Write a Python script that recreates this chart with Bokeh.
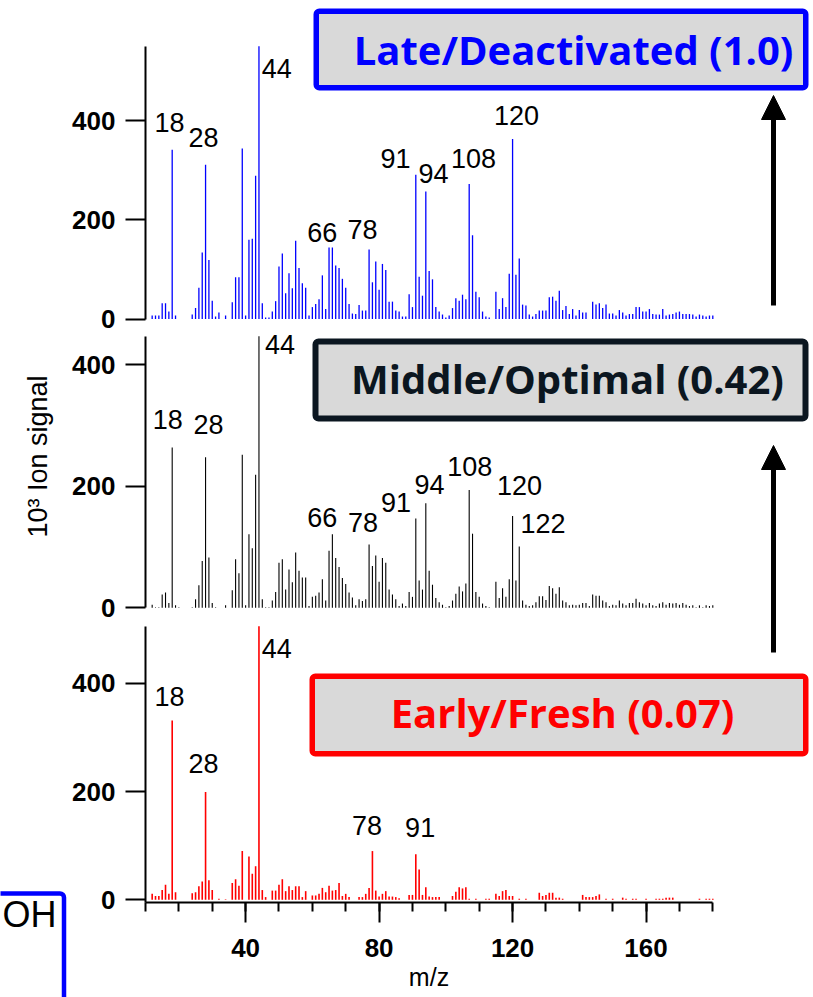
import math

from bokeh.core.properties import value
from bokeh.embed import file_html
from bokeh.models import (Arrow, BoxAnnotation, ColumnDataSource, FixedTicker,
                          Label, LinearAxis, NormalHead, Range1d,
                          SingleIntervalTicker)
from bokeh.plotting import figure
from bokeh.resources import INLINE

# ---------------------------------------------------------------------------
# Data: ion signal (x 10^3) at each integer m/z, 12 ... 180
# ---------------------------------------------------------------------------
mz = list(range(12, 181))

late_signal = [
    7, 7, 7, 32, 32, 15, 341, 7, 0, 0,            # 12-21
    0, 0, 9, 22, 63, 134, 311, 119, 37, 5,        # 22-31
    13, 0, 7, 0, 34, 84, 84, 344, 7, 160,         # 32-41
    162, 289, 550, 32, 3, 3, 15, 36, 106, 132,    # 42-51
    52, 92, 62, 158, 103, 72, 63, 7, 24, 30,      # 52-61
    40, 88, 20, 144, 144, 108, 103, 81, 63, 30,   # 62-71
    11, 10, 28, 17, 17, 140, 74, 116, 59, 111,    # 72-81
    99, 35, 35, 17, 15, 5, 5, 50, 24, 291,        # 82-91
    85, 47, 257, 97, 80, 24, 15, 9, 3, 7,         # 92-101
    22, 42, 37, 49, 40, 272, 169, 55, 44, 15,     # 102-111
    5, 3, 0, 55, 20, 42, 24, 91, 363, 89,         # 112-121
    122, 29, 27, 9, 5, 10, 17, 17, 17, 44,        # 122-131
    45, 37, 57, 18, 26, 10, 20, 7, 18, 13,        # 132-141
    13, 0, 35, 29, 32, 22, 29, 11, 11, 7,         # 142-151
    18, 13, 7, 10, 10, 24, 24, 15, 15, 20,        # 152-161
    10, 9, 9, 20, 7, 9, 10, 13, 15, 10,           # 162-171
    10, 10, 9, 5, 9, 7, 5, 7, 7,                  # 172-180
]

middle_signal = [
    5, 1, 1, 22, 25, 8, 264, 4, 1, 0,             # 12-21
    0, 0, 1, 14, 37, 77, 248, 83, 8, 1,           # 22-31
    0, 0, 4, 0, 29, 80, 57, 252, 4, 121,          # 32-41
    98, 219, 447, 14, 1, 1, 12, 26, 74, 80,       # 42-51
    30, 63, 42, 91, 61, 50, 50, 3, 18, 20,        # 52-61
    25, 47, 12, 94, 121, 82, 67, 49, 39, 25,      # 62-71
    17, 4, 14, 11, 14, 104, 69, 86, 43, 82,       # 72-81
    74, 30, 22, 14, 3, 7, 3, 26, 18, 147,         # 82-91
    45, 30, 172, 61, 38, 16, 9, 5, 1, 3,          # 92-101
    12, 23, 35, 27, 40, 194, 122, 26, 18, 7,      # 102-111
    3, 1, 0, 43, 16, 32, 18, 47, 151, 45,         # 112-121
    101, 12, 5, 3, 4, 9, 19, 19, 13, 36,          # 122-131
    32, 23, 34, 12, 9, 4, 5, 4, 5, 8,             # 132-141
    8, 3, 22, 20, 20, 12, 9, 3, 5, 4,             # 142-151
    12, 7, 4, 8, 8, 15, 9, 7, 4, 8,               # 152-161
    4, 3, 7, 9, 5, 8, 7, 8, 5, 8,                 # 162-171
    5, 3, 4, 1, 4, 1, 4, 3, 4,                    # 172-180
]

early_signal = [
    11, 7, 7, 18, 28, 11, 331, 14, 0, 0,          # 12-21
    0, 0, 12, 14, 25, 34, 199, 36, 18, 0,         # 22-31
    2, 0, 1, 0, 31, 38, 26, 90, 0, 80,            # 32-41
    48, 62, 505, 18, 5, 0, 17, 17, 28, 38,        # 42-51
    16, 25, 18, 25, 25, 5, 16, 0, 8, 8,           # 52-61
    11, 22, 14, 26, 17, 18, 31, 7, 11, 5,         # 62-71
    0, 0, 5, 5, 11, 22, 90, 17, 6, 11,            # 72-81
    16, 6, 6, 5, 3, 0, 0, 9, 9, 84,               # 82-91
    56, 9, 23, 6, 5, 5, 5, 0, 0, 0,               # 92-101
    7, 15, 23, 21, 23, 2, 0, 2, 0, 0,             # 102-111
    2, 2, 0, 11, 7, 16, 18, 7, 7, 0,              # 112-121
    2, 0, 2, 0, 0, 0, 13, 7, 9, 13,               # 122-131
    13, 4, 4, 2, 0, 0, 0, 0, 0, 9,                # 132-141
    5, 5, 5, 7, 10, 0, 2, 0, 2, 0,                # 142-151
    0, 4, 2, 0, 2, 2, 0, 0, 2, 0,                 # 152-161
    0, 2, 2, 2, 4, 4, 4, 0, 0, 0,                 # 162-171
    0, 0, 0, 0, 2, 0, 2, 2, 2,                    # 172-180
]

y_ticks = [0, 200, 400]

late_peaks = ["18", "28", "44", "66", "78", "91", "94", "108", "120"]
middle_peaks = ["18", "28", "44", "66", "78", "91", "94", "108", "120", "122"]
early_peaks = ["18", "28", "44", "78", "91"]

stage_titles = ["Late/Deactivated (1.0)", "Middle/Optimal (0.42)", "Early/Fresh (0.07)"]

# ---------------------------------------------------------------------------
# Layout: one full-window frame; each spectrum gets its own y range
# ---------------------------------------------------------------------------
W, H = 813, 997
MZ_LO, MZ_HI = 10, 180
X_LO_PX, X_HI_PX = 145.0, 712.3
px_per_mz = (X_HI_PX - X_LO_PX) / (MZ_HI - MZ_LO)

p = figure(
    width=W, height=H,
    x_range=Range1d(MZ_LO - X_LO_PX / px_per_mz, MZ_LO + (W - X_LO_PX) / px_per_mz),
    y_range=Range1d(H, 0),           # page pixels, measured from the top
    output_backend="svg", toolbar_location=None,
    x_axis_location=None, y_axis_location=None, title_location=None,
    min_border=0,
)
p.grid.visible = False
p.outline_line_color = None
p.background_fill_color = "white"
p.border_fill_color = "white"
p.extra_x_ranges = {"px": Range1d(0, W)}


def panel_range(base_px, px_per_unit):
    return Range1d(-(H - base_px) / px_per_unit, base_px / px_per_unit)


# (name, baseline px, px per unit, axis top, bar colour, bar width, values,
#  peak names, peak label placement [(m/z, signal)])
panels = [
    ("late", 318.5, 0.496, 550, "#0000ff", 1.3, late_signal, late_peaks,
     [(17.2, 396), (27.4, 366), (49.3, 505), (63.0, 175), (75.0, 180),
      (84.9, 324), (96.3, 294), (108.3, 324), (121.2, 411)]),
    ("middle", 607.3, 0.6075, 447, "#000000", 1.1, middle_signal, middle_peaks,
     [(16.7, 310), (28.9, 302), (50.3, 433), (63.0, 148), (75.2, 141),
      (85.1, 173), (95.1, 203), (107.2, 233), (122.1, 202), (129.1, 138)]),
    ("early", 899.3, 0.5415, 505, "#ff0000", 1.6, early_signal, early_peaks,
     [(17.2, 375), (27.4, 251), (49.3, 465), (76.4, 137), (92.3, 133)]),
]

for name, base, k, top, color, lw, vals, peaks, spots in panels:
    p.extra_y_ranges[name] = panel_range(base, k)

    keep = [i for i, v in enumerate(vals) if v > 0]
    src = ColumnDataSource(dict(mz=[mz[i] for i in keep], signal=[vals[i] for i in keep]))
    p.segment(x0="mz", y0=0, x1="mz", y1="signal", source=src,
              y_range_name=name, line_color=color, line_width=lw)

    lab = ColumnDataSource(dict(x=[s[0] for s in spots], y=[s[1] for s in spots], t=peaks))
    p.text(x="x", y="y", text="t", source=lab, y_range_name=name,
           text_font=value("Liberation Sans"), text_font_size="27px",
           text_color="black", text_align="center", text_baseline="alphabetic")

    lower = -5.5 if name == "early" else 0
    ax = LinearAxis(y_range_name=name, fixed_location=MZ_LO, bounds=(lower, top),
                    ticker=FixedTicker(ticks=y_ticks))
    ax.axis_line_width = 2
    ax.axis_line_color = "black"
    ax.major_tick_line_width = 2
    ax.major_tick_line_color = "black"
    ax.major_tick_out = 20
    ax.major_tick_in = 0
    ax.minor_tick_line_color = None
    ax.major_label_text_font = "Liberation Sans"
    ax.major_label_text_font_style = "bold"
    ax.major_label_text_font_size = "26px"
    ax.major_label_text_color = "black"
    ax.major_label_standoff = 10
    p.add_layout(ax, "left")

# shared m/z axis under the lowest spectrum
xa = LinearAxis(y_range_name="early", fixed_location=-5.5, bounds=(MZ_LO, MZ_HI),
                ticker=SingleIntervalTicker(interval=40, num_minor_ticks=4))
xa.axis_line_width = 2
xa.axis_line_color = "black"
xa.major_tick_line_width = 2
xa.minor_tick_line_width = 2
xa.major_tick_line_color = "black"
xa.minor_tick_line_color = "black"
xa.major_tick_out = 20
xa.major_tick_in = 0
xa.minor_tick_out = 9
xa.minor_tick_in = 0
xa.major_label_text_font = "Liberation Sans"
xa.major_label_text_font_style = "bold"
xa.major_label_text_font_size = "26px"
xa.major_label_text_color = "black"
xa.major_label_standoff = 16
xa.axis_label = "m/z"
xa.axis_label_text_font = "Liberation Sans"
xa.axis_label_text_font_style = "normal"
xa.axis_label_text_font_size = "25px"
xa.axis_label_text_color = "black"
xa.axis_label_standoff = 3
p.add_layout(xa, "below")

p.add_layout(Label(x=37, y=456, x_range_name="px", text="10³ Ion signal", angle=math.pi / 2,
                   text_font="Liberation Sans", text_font_size="27px", text_color="black",
                   text_align="center", text_baseline="middle"))

# ---------------------------------------------------------------------------
# Stage boxes and arrows
# ---------------------------------------------------------------------------
GRAY = "#d9d9d9"
boxes = [
    # (left, right, top, bottom, border colour, border width, text x, text y)
    (313, 808, 8, 90, "#0000ff", 5.5, 573, 49),
    (312, 808, 338, 421, "#0b1620", 6.0, 567, 378),
    (309, 808, 673, 756, "#ff0000", 5.5, 562, 712),
]
for (l, r, t, b, col, bw, tx, ty), title in zip(boxes, stage_titles):
    h = bw / 2
    p.add_layout(BoxAnnotation(left=l + h, right=r - h, top=t + h, bottom=b - h,
                               x_range_name="px", fill_color=GRAY, fill_alpha=1,
                               line_color=col, line_alpha=1, line_width=bw,
                               border_radius=3))
    p.add_layout(Label(x=tx, y=ty, x_range_name="px", text=title,
                       text_font="Open Sans", text_font_style="bold",
                       text_font_size="40px", text_color=col,
                       text_align="center", text_baseline="alphabetic"))

for y0, y1 in [(305, 95), (652, 445)]:
    p.add_layout(Arrow(x_start=773, y_start=y0, x_end=773, y_end=y1, x_range_name="px",
                       line_color="black", line_width=5,
                       end=NormalHead(size=24, fill_color="black", line_color="black",
                                      line_width=1)))

# edge of the neighbouring panel at the lower left
p.add_layout(BoxAnnotation(left=-20, right=63.5, top=893, bottom=1030, x_range_name="px",
                           fill_color=None, fill_alpha=0, line_color="#0000ff",
                           line_alpha=1, line_width=4.5, border_radius=4))
p.add_layout(Label(x=2, y=914, x_range_name="px", text="OH",
                   text_font="Liberation Sans", text_font_size="36px", text_color="black",
                   text_align="left", text_baseline="alphabetic"))

open("out.html", "w").write(file_html(p, INLINE))
